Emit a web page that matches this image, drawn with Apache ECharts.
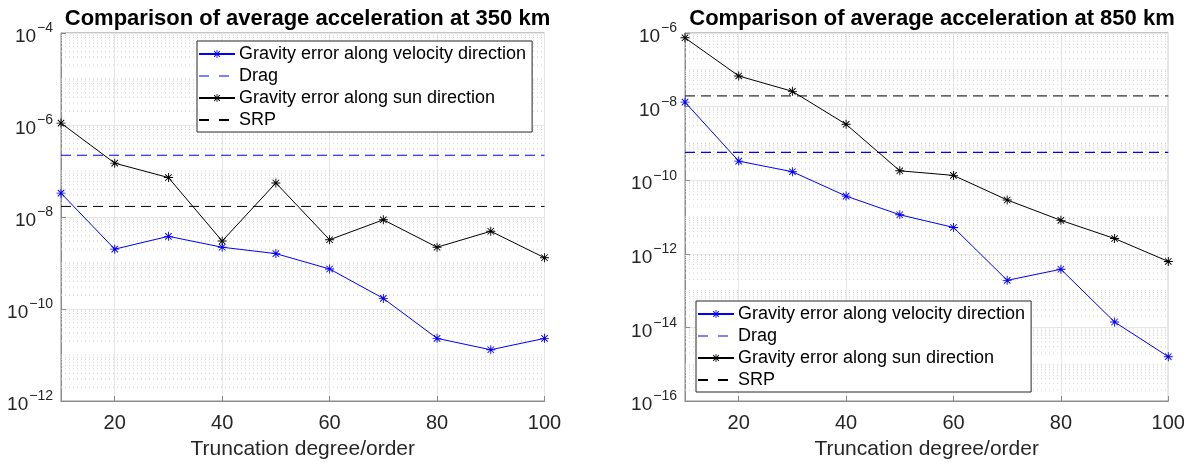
<!DOCTYPE html>
<html>
<head>
<meta charset="utf-8">
<script src="https://cdn.jsdelivr.net/npm/echarts@6/dist/echarts.min.js"></script>
<style>
  html, body { margin: 0; padding: 0; background: #fff; }
  #chart { width: 1190px; height: 465px; }
</style>
</head>
<body>
<div id="chart"></div>
<script>
// truncation degree/order on the x axis
const degrees = [10, 20, 30, 40, 50, 60, 70, 80, 90, 100];
const xTicks = [20, 40, 60, 80, 100];

// 350 km
const vel350 = [3.3e-8, 2.0e-9, 3.8e-9, 2.2e-9, 1.6e-9, 7.4e-10, 1.7e-10, 2.3e-11, 1.3e-11, 2.3e-11];
const sun350 = [1.1e-6, 1.48e-7, 7.2e-8, 3.0e-9, 5.5e-8, 3.2e-9, 8.7e-9, 2.2e-9, 4.9e-9, 1.3e-9];
const drag350 = 2.2e-7;
const srp350 = 1.7e-8;

// 850 km
const vel850 = [1.32e-8, 3.3e-10, 1.7e-10, 3.7e-11, 1.15e-11, 5.2e-12, 1.9e-13, 3.8e-13, 1.4e-14, 1.6e-15];
const sun850 = [7.4e-7, 6.8e-8, 2.6e-8, 3.3e-9, 1.8e-10, 1.35e-10, 2.9e-11, 8.1e-12, 2.6e-12, 6.2e-13];
const drag850 = 5.7e-10;
const srp850 = 1.95e-8;

const names = ['Gravity error along velocity direction', 'Drag', 'Gravity error along sun direction', 'SRP'];

const FONT = 'Liberation Sans, Helvetica, Arial, sans-serif';
// matlab style '*' marker
const STAR = 'path://M9.1 1L10.9 1L10.9 19L9.1 19Z M1 9.1L19 9.1L19 10.9L1 10.9Z ' +
  'M4.2 2.9L17.1 15.8L15.8 17.1L2.9 4.2Z M17.1 4.2L4.2 17.1L2.9 15.8L15.8 2.9Z';

// dotted log grid at 2..9 x 10^n and at odd decades, as broken segments
function minorGrid(lo, hi) {
  const out = [];
  for (let e = lo; e < hi; e++) {
    for (let k = 1; k <= 9; k++) {
      if (k === 1 && e % 2 === 0) continue;
      const v = k * Math.pow(10, e);
      out.push([10, v], [100, v], [100, '-']);
    }
  }
  return out;
}

function pairs(ys) {
  return degrees.map((d, i) => [d, ys[i]]);
}

const chart = echarts.init(document.getElementById('chart'));

const grids = [
  { left: 61, top: 33, width: 483.5, height: 375 },
  { left: 685, top: 33, width: 483.3, height: 375 }
];

function xAxisFor(idx) {
  return {
    type: 'value', gridIndex: idx, min: 10, max: 100,
    name: 'Truncation degree/order', nameLocation: 'middle', nameGap: 38,
    nameTextStyle: { fontSize: 21, color: '#262626', fontFamily: FONT },
    axisLine: { show: true, lineStyle: { color: '#8c8c8c' } },
    axisTick: { show: true, inside: true, length: 5, customValues: xTicks, lineStyle: { color: '#8c8c8c' } },
    axisLabel: { customValues: xTicks, fontSize: 20, color: '#262626', fontFamily: FONT, margin: 12 },
    splitLine: { show: true, lineStyle: { color: '#e6e6e6', width: 1 } }
  };
}

function yAxisFor(idx, lo, hi) {
  return {
    type: 'log', gridIndex: idx, min: Math.pow(10, lo), max: Math.pow(10, hi), interval: 2,
    axisLine: { show: true, lineStyle: { color: '#8c8c8c' } },
    axisTick: { show: true, inside: true, length: 5, lineStyle: { color: '#8c8c8c' } },
    axisLabel: {
      margin: 8, color: '#262626', fontFamily: FONT,
      formatter: v => '{b|10}{s|\u2212' + Math.abs(Math.round(Math.log10(v))) + '}',
      rich: {
        b: { fontSize: 19, fontFamily: FONT, color: '#262626', padding: [8, 1, 0, 0] },
        s: { fontSize: 14, fontFamily: FONT, color: '#262626', verticalAlign: 'top', padding: [2, 0, 0, 0] }
      }
    },
    splitLine: { show: true, lineStyle: { color: '#e6e6e6', width: 1 } }
  };
}

function seriesFor(idx, vel, drag, sun, srp, lo, hi) {
  return [
    {
      // dotted minor grid
      type: 'line', xAxisIndex: idx, yAxisIndex: idx, z: 1, silent: true,
      data: minorGrid(lo, hi), symbol: 'none', connectNulls: false,
      lineStyle: { color: '#d2d2d2', type: [1, 3], width: 1 }
    },
    {
      name: names[0], type: 'line', xAxisIndex: idx, yAxisIndex: idx, z: 4,
      data: pairs(vel), symbol: STAR, symbolSize: 9,
      itemStyle: { color: '#0000ff' }, lineStyle: { color: '#0000ff', width: 1 }
    },
    {
      name: names[1], type: 'line', xAxisIndex: idx, yAxisIndex: idx, z: 3,
      data: [[10, drag], [100, drag]], symbol: 'none',
      itemStyle: { color: '#0000ff' }, lineStyle: { color: '#0000ff', width: 1.2, type: [10, 6] }
    },
    {
      name: names[2], type: 'line', xAxisIndex: idx, yAxisIndex: idx, z: 4,
      data: pairs(sun), symbol: STAR, symbolSize: 9,
      itemStyle: { color: '#000000' }, lineStyle: { color: '#000000', width: 1 }
    },
    {
      name: names[3], type: 'line', xAxisIndex: idx, yAxisIndex: idx, z: 3,
      data: [[10, srp], [100, srp]], symbol: 'none',
      itemStyle: { color: '#000000' }, lineStyle: { color: '#000000', width: 1, type: [10, 6] }
    }
  ];
}

function legendAt(left, top) {
  return {
    data: [
      { name: names[0] },
      { name: names[1], itemStyle: { opacity: 0 }, lineStyle: { type: [10, 10], width: 1 } },
      { name: names[2] },
      { name: names[3], itemStyle: { opacity: 0 }, lineStyle: { type: [10, 10] } }
    ],
    orient: 'vertical', left: left, top: top,
    backgroundColor: '#fff', borderColor: '#262626', borderWidth: 1, borderRadius: 0,
    padding: [4, 6, 3, 1], itemGap: 4, itemWidth: 36, itemHeight: 10,
    textStyle: { fontSize: 18, color: '#000', fontFamily: FONT, padding: [0, 0, 0, -1] }
  };
}

chart.setOption({
  animation: false,
  backgroundColor: '#fff',
  title: [
    { text: 'Comparison of average acceleration at 350 km', left: 302.5, top: 3, textAlign: 'center',
      textStyle: { fontSize: 22, fontWeight: 'bold', color: '#000', fontFamily: FONT } },
    { text: 'Comparison of average acceleration at 850 km', left: 927, top: 3, textAlign: 'center',
      textStyle: { fontSize: 22, fontWeight: 'bold', color: '#000', fontFamily: FONT } }
  ],
  legend: [legendAt(197, 41), legendAt(696, 301)],
  grid: grids.map(g => Object.assign({ show: true, borderColor: '#8c8c8c', borderWidth: 1, backgroundColor: '#fff' }, g)),
  xAxis: [xAxisFor(0), xAxisFor(1)],
  yAxis: [yAxisFor(0, -12, -4), yAxisFor(1, -16, -6)],
  series: [].concat(
    seriesFor(0, vel350, drag350, sun350, srp350, -12, -4),
    seriesFor(1, vel850, drag850, sun850, srp850, -16, -6)
  )
});
</script>
</body>
</html>
